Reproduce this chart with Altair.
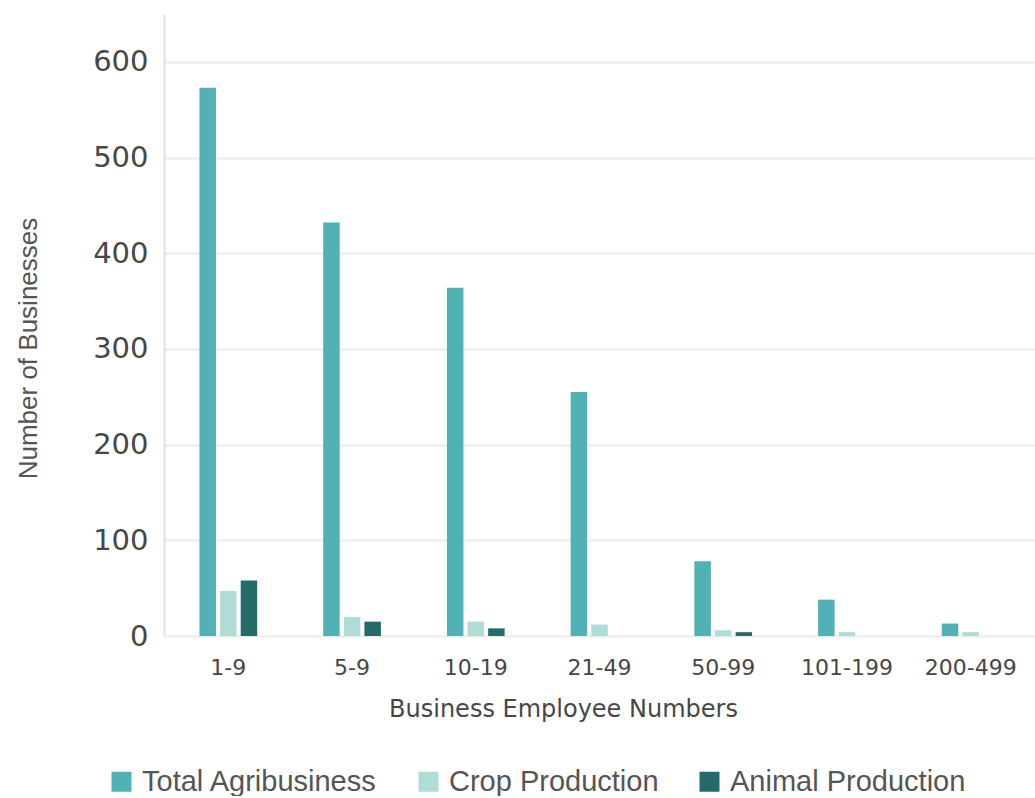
import altair as alt
import pandas as pd

categories = ["1-9", "5-9", "10-19", "21-49", "50-99", "101-199", "200-499"]
series = ["Total Agribusiness", "Crop Production", "Animal Production"]
total = [573, 432, 364, 255, 78, 38, 13]
crop = [47, 20, 15, 12, 6, 4, 4]
animal = [58, 15, 8, 0, 4, 0, 0]
colors = ["#52b1b4", "#b0dcd7", "#256b6a"]
y_ticks = [0, 100, 200, 300, 400, 500, 600]

rows = []
for name, vals in zip(series, [total, crop, animal]):
    for c, v in zip(categories, vals):
        rows.append({"cat": c, "series": name, "value": v})
df = pd.DataFrame(rows)

chart = alt.Chart(df).mark_bar().encode(
    x=alt.X(
        "cat:N",
        sort=categories,
        scale=alt.Scale(paddingInner=0.5, paddingOuter=0.27),
        axis=alt.Axis(
            title="Business Employee Numbers",
            labelAngle=0,
            ticks=False,
            domain=False,
            grid=False,
            labelFont="DejaVu Sans",
            labelFontSize=22,
            labelColor="#474747",
            labelPadding=21,
            titleFont="DejaVu Sans",
            titleFontSize=24,
            titleFontWeight="normal",
            titleColor="#474747",
            titleX=399,
            titleY=73,
            titleAlign="center",
            titleBaseline="middle",
        ),
    ),
    xOffset=alt.XOffset(
        "series:N",
        sort=series,
        scale=alt.Scale(paddingInner=0.2, paddingOuter=0.1),
    ),
    y=alt.Y(
        "value:Q",
        scale=alt.Scale(domain=[0, 650], nice=False),
        axis=alt.Axis(
            title="Number of Businesses",
            values=y_ticks,
            ticks=False,
            domainColor="#e3e3e3",
            domainWidth=2,
            gridColor="#ebebeb",
            gridWidth=2,
            labelFont="DejaVu Sans",
            labelFontSize=29,
            labelColor="#474747",
            labelPadding=16,
            titleFont="Liberation Sans",
            titleFontSize=26,
            titleFontWeight="normal",
            titleColor="#555555",
            titleX=-136,
            titleY=334,
            titleAngle=-90,
            titleAlign="center",
            titleBaseline="middle",
        ),
    ),
    color=alt.Color(
        "series:N",
        sort=series,
        scale=alt.Scale(domain=series, range=colors),
        legend=alt.Legend(
            title=None,
            orient="none",
            legendX=-57,
            legendY=753,
            direction="horizontal",
            symbolType="square",
            symbolSize=400,
            symbolStrokeWidth=0,
            labelFont="Liberation Sans",
            labelFontSize=29,
            labelColor="#555555",
            labelOffset=6,
            labelLimit=500,
            columnPadding=36,
        ),
    ),
).properties(
    width=871,
    height=622,
    autosize="none",
    background="white",
    padding={"left": 164, "top": 14, "right": 0, "bottom": 160},
).configure_view(stroke=None)

chart.save("out.html", embed_options={"renderer": "svg", "actions": False})
